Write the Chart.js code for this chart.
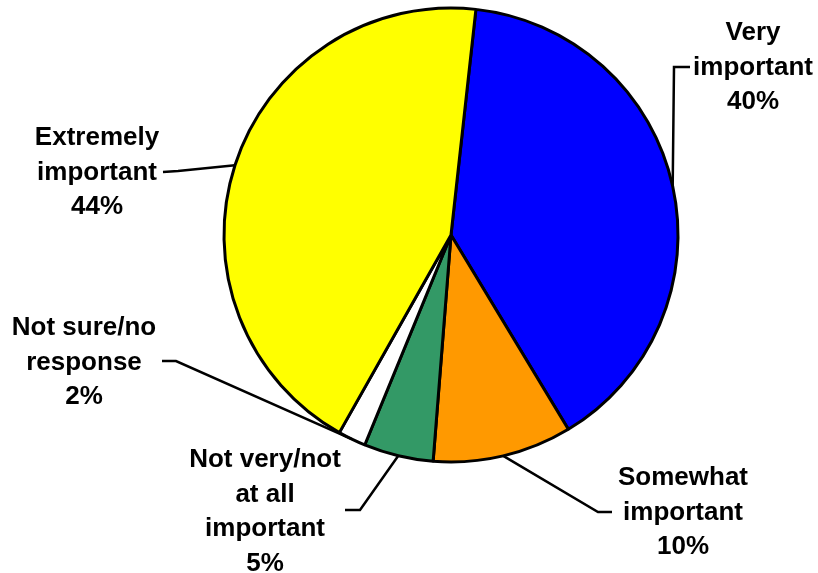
<!DOCTYPE html>
<html>
<head>
<meta charset="utf-8">
<script src="https://cdn.jsdelivr.net/npm/chart.js@4/dist/chart.umd.min.js"></script>
<style>
  html, body { margin: 0; padding: 0; background: #fff; }
  #wrap { width: 818px; height: 573px; }
</style>
</head>
<body>
<div id="wrap"><canvas id="importancePie"></canvas></div>
<script>
// data
const categories = ['Very important', 'Somewhat important', 'Not very/not at all important', 'Not sure/no response', 'Extremely important'];
const shares = [40, 10, 5, 2, 44];
const labelText = [
    ['Very', 'important'],
    ['Somewhat', 'important'],
    ['Not very/not', 'at all', 'important'],
    ['Not sure/no', 'response'],
    ['Extremely', 'important']
];
const sliceColors = ['#0000FF', '#FF9900', '#339966', '#FFFFFF', '#FFFF00'];

// where each label sits, and the elbow of its leader line
const labelLayout = [
    { cx: 753, y0: 33,  elbow: [[690, 67], [674, 67]] },
    { cx: 683, y0: 478, elbow: [[612, 512], [598, 512]] },
    { cx: 265, y0: 460, elbow: [[345, 510], [360, 510]] },
    { cx: 84,  y0: 328, elbow: [[162, 361], [176, 361]] },
    { cx: 97,  y0: 138, elbow: [[163, 172], [178, 171]] }
];
const LINE_GAP = 34.5;

// draws the callout text and leader lines
const calloutPlugin = {
    id: 'callouts',
    afterDraw: function(chart) {
        const ctx = chart.ctx;
        const arcs = chart.getDatasetMeta(0).data;
        ctx.save();
        ctx.strokeStyle = '#000';
        ctx.lineWidth = 2.5;
        arcs.forEach((arc, i) => {
            const mid = (arc.startAngle + arc.endAngle) / 2;
            const ex = arc.x + Math.cos(mid) * arc.outerRadius;
            const ey = arc.y + Math.sin(mid) * arc.outerRadius;
            const pts = labelLayout[i].elbow;
            ctx.beginPath();
            ctx.moveTo(pts[0][0], pts[0][1]);
            for (let k = 1; k < pts.length; k++) ctx.lineTo(pts[k][0], pts[k][1]);
            ctx.lineTo(ex, ey);
            ctx.stroke();
        });

        ctx.fillStyle = '#000';
        ctx.font = "bold 26px Arial, 'Liberation Sans', sans-serif";
        ctx.textAlign = 'center';
        ctx.textBaseline = 'middle';
        labelText.forEach((lines, i) => {
            const all = lines.concat([shares[i] + '%']);
            all.forEach((t, k) => {
                ctx.fillText(t, labelLayout[i].cx, labelLayout[i].y0 + k * LINE_GAP);
            });
        });
        ctx.restore();
    }
};

new Chart(document.getElementById('importancePie'), {
    type: 'pie',
    data: {
        labels: categories,
        datasets: [{
            data: shares,
            backgroundColor: sliceColors,
            borderColor: '#000000',
            borderWidth: 3
        }]
    },
    options: {
        responsive: true,
        maintainAspectRatio: false,
        animation: false,
        rotation: 6.3,
        radius: 227,
        layout: {
            padding: { left: 84, right: 0, top: 0, bottom: 103 }
        },
        plugins: {
            legend: { display: false },
            tooltip: { enabled: false }
        }
    },
    plugins: [calloutPlugin]
});
</script>
</body>
</html>
